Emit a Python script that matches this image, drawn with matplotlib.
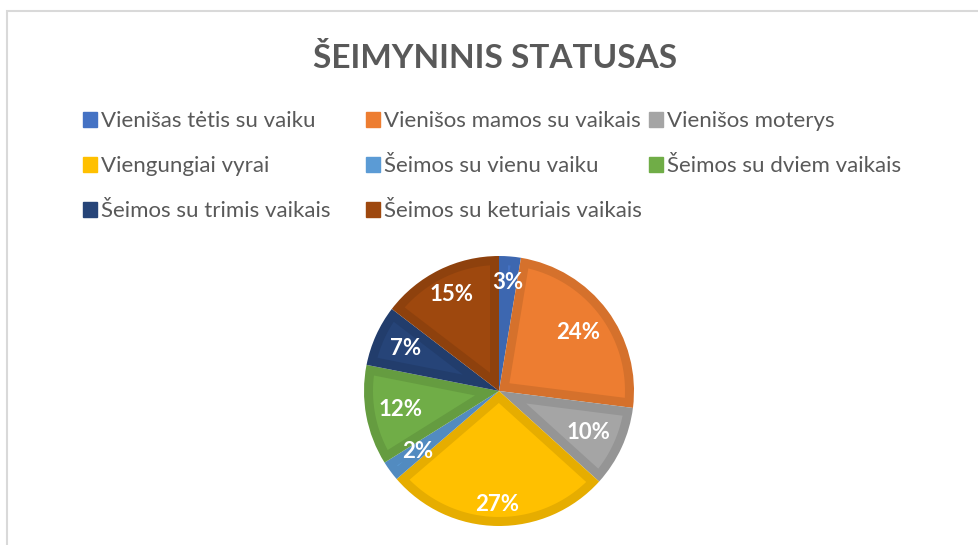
import matplotlib.pyplot as plt
from matplotlib.patches import Rectangle, Polygon
import numpy as np
from matplotlib.colors import to_rgb

# data (share of respondents, %)
categories = ['Vienišas tėtis su vaiku', 'Vienišos mamos su vaikais', 'Vienišos moterys',
              'Viengungiai vyrai', 'Šeimos su vienu vaiku', 'Šeimos su dviem vaikais',
              'Šeimos su trimis vaikais', 'Šeimos su keturiais vaikais']
values = [2.6, 24.4, 9.7, 27.0, 2.4, 12.0, 7.3, 14.6]
colors = ['#4472C4', '#ED7D31', '#A5A5A5', '#FFC000', '#5B9BD5', '#70AD47', '#264478', '#9E480E']

# label distance from center, as a fraction of radius
label_r = [0.81, 0.73, 0.73, 0.84, 0.75, 0.74, 0.76, 0.80]

W, H = 979, 545
text_color = '#595959'
plt.rcParams['font.family'] = ['Lato', 'DejaVu Sans']

fig = plt.figure(figsize=(W / 100, H / 100), dpi=100)
ax = fig.add_axes([0, 0, 1, 1])

cx, cy, R = 499, H - 391, 135
border = 9  # width of the darker rim inside each slice, px
dark_colors = [tuple(np.array(to_rgb(c)) * 0.9) for c in colors]

# slices drawn in the darker rim colour first
wedges, _ = ax.pie(values, colors=dark_colors, startangle=90, counterclock=False,
                   center=(cx, cy), radius=R)

# then the lighter inner part, inset by `border` from every side
for w, c in zip(wedges, colors):
    t1, t2 = np.deg2rad(w.theta1), np.deg2rad(w.theta2)
    half = (t2 - t1) / 2
    ri = R - border
    off = np.arcsin(border / ri)
    if t2 - off <= t1 + off:
        continue
    apex_d = border / np.sin(half)
    bis = t1 + half
    arc = np.linspace(t1 + off, t2 - off, 80)
    pts = [(cx + apex_d * np.cos(bis), cy + apex_d * np.sin(bis))]
    pts += [(cx + ri * np.cos(a), cy + ri * np.sin(a)) for a in arc]
    ax.add_patch(Polygon(pts, closed=True, facecolor=c, edgecolor='none'))

ax.set_xlim(0, W)
ax.set_ylim(0, H)
ax.axis('off')

# percentage labels
total = sum(values)
cum = np.cumsum(values)
for i, v in enumerate(values):
    mid = cum[i] - v / 2
    ang = np.deg2rad(90 - 360 * mid / total)
    r = R * label_r[i]
    ax.text(cx + r * np.cos(ang), cy + r * np.sin(ang), f'{v / total * 100:.0f}%',
            ha='center', va='center', color='white', fontsize=16, fontweight='bold')

# title
ax.text(495, H - 68, 'ŠEIMYNINIS STATUSAS', ha='center', va='baseline',
        fontsize=24, fontweight='bold', color=text_color)

# legend, three equal columns like Excel
for i, lbl in enumerate(categories):
    col, row = i % 3, i // 3
    x0 = 83 + col * 283
    base = H - (126.5 + row * 45)
    ax.add_patch(Rectangle((x0, base), 14, 14.5, color=colors[i]))
    ax.text(x0 + 18.5, base, lbl, ha='left', va='baseline', fontsize=16, color=text_color)

# chart border (cut off on the right and bottom)
ax.add_patch(Rectangle((7.5, -10), W, H - 11 + 10, fill=False, edgecolor='#D9D9D9', linewidth=1.5))

fig.savefig('out.png', dpi=100)
